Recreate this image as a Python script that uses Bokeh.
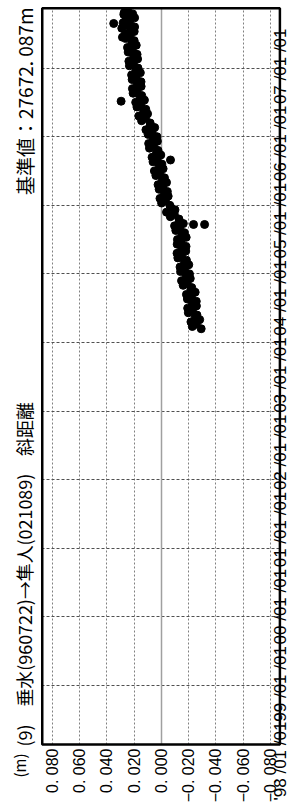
import math
from bokeh.plotting import figure
from bokeh.models import FixedTicker, Label, Range1d, Grid, BoxAnnotation
from bokeh.embed import file_html
from bokeh.resources import INLINE

# ---- data (decimal year, slope distance change in m) ----
dates = [
    2003.200, 2003.233, 2003.267, 2003.300, 2003.333, 2003.367,
    2003.400, 2003.433, 2003.467, 2003.500, 2003.533, 2003.567,
    2003.600, 2003.633, 2003.667, 2003.700, 2003.733, 2003.767,
    2003.800, 2003.833, 2003.867, 2003.900, 2003.933, 2003.967,
    2004.000, 2004.033, 2004.067, 2004.100, 2004.133, 2004.167,
    2004.200, 2004.233, 2004.267, 2004.300, 2004.333, 2004.367,
    2004.400, 2004.433, 2004.467, 2004.500, 2004.533, 2004.567,
    2004.600, 2004.633, 2004.667, 2004.700, 2004.733, 2004.767,
    2004.800, 2004.833, 2004.867, 2004.900, 2004.933, 2004.967,
    2005.000, 2005.033, 2005.067, 2005.100, 2005.133, 2005.167,
    2005.200, 2005.233, 2005.267, 2005.300, 2005.333, 2005.367,
    2005.400, 2005.433, 2005.467, 2005.500, 2005.533, 2005.567,
    2005.600, 2005.633, 2005.667, 2005.700, 2005.733, 2005.767,
    2005.800, 2005.833, 2005.867, 2005.900, 2005.933, 2005.967,
    2006.000, 2006.033, 2006.067, 2006.100, 2006.133, 2006.167,
    2006.200, 2006.233, 2006.267, 2006.300, 2006.333, 2006.367,
    2006.400, 2006.433, 2006.467, 2006.500, 2006.533, 2006.567,
    2006.600, 2006.633, 2006.667, 2006.700, 2006.733, 2006.767,
    2006.800, 2006.833, 2006.867, 2006.900, 2006.933, 2006.967,
    2007.000, 2007.033, 2007.067, 2007.100, 2007.133, 2007.167,
    2007.200, 2007.233, 2007.267, 2007.300, 2007.333, 2007.367,
    2007.400, 2007.433, 2007.467, 2007.500, 2007.533, 2007.567,
    2007.600, 2007.633, 2007.667, 2007.700, 2007.733, 2007.767,
    2007.790, 2007.805, 2007.820,
    2007.450, 2007.580, 2007.660, 2007.780,
    2007.650, 2006.517, 2005.660, 2004.720, 2004.720,
]
dist = [
    -0.0292, -0.0227, -0.0256, -0.0217, -0.0281, -0.0249,
    -0.0261, -0.0198, -0.0227, -0.0193, -0.0257, -0.0228,
    -0.0256, -0.0191, -0.0220, -0.0184, -0.0248, -0.0216,
    -0.0223, -0.0160, -0.0189, -0.0148, -0.0212, -0.0183,
    -0.0206, -0.0141, -0.0170, -0.0137, -0.0201, -0.0169,
    -0.0184, -0.0121, -0.0150, -0.0115, -0.0179, -0.0150,
    -0.0181, -0.0116, -0.0145, -0.0118, -0.0182, -0.0150,
    -0.0169, -0.0106, -0.0135, -0.0097, -0.0161, -0.0132,
    -0.0129, -0.0066, -0.0095, -0.0038, -0.0100, -0.0070,
    -0.0062, -0.0002, -0.0030, 0.0010, -0.0050, -0.0022,
    -0.0044, 0.0016, -0.0010, 0.0024, -0.0038, -0.0008,
    -0.0023, 0.0040, 0.0011, 0.0051, -0.0013, 0.0016,
    -0.0004, 0.0061, 0.0032, 0.0068, 0.0004, 0.0036,
    0.0024, 0.0087, 0.0058, 0.0093, 0.0029, 0.0058,
    0.0032, 0.0097, 0.0068, 0.0113, 0.0049, 0.0081,
    0.0082, 0.0145, 0.0116, 0.0165, 0.0101, 0.0130,
    0.0114, 0.0179, 0.0150, 0.0188, 0.0124, 0.0156,
    0.0144, 0.0207, 0.0178, 0.0212, 0.0148, 0.0177,
    0.0149, 0.0214, 0.0185, 0.0218, 0.0154, 0.0186,
    0.0171, 0.0234, 0.0205, 0.0238, 0.0174, 0.0203,
    0.0178, 0.0243, 0.0214, 0.0248, 0.0184, 0.0216,
    0.0199, 0.0262, 0.0233, 0.0263, 0.0199, 0.0228,
    0.0196, 0.0261, 0.0232, 0.0260, 0.0196, 0.0228,
    0.0210, 0.0273, 0.0244,
    0.0285, 0.0290, 0.0280, 0.0275,
    0.0349, 0.0295, -0.0067, -0.0236, -0.0317,
]

value_ticks = [0.08, 0.06, 0.04, 0.02, 0.0, -0.02, -0.04, -0.06, -0.08]
value_tick_labels = ["0. 080", "0. 060", "0. 040", "0. 020", "0. 000",
                     "\u22120. 020", "\u22120. 040", "\u22120. 060", "\u22120. 080"]
year_grid = [1998, 1999, 2000, 2001, 2002, 2003, 2004, 2005, 2006, 2007]
date_label_pos = [1996.324, 1997.472, 1998.598, 1999.723, 2000.848,
                  2001.974, 2003.099, 2004.224, 2005.350, 2006.475]
date_labels = ["'98 /01 /01", "99 /01 /01", "00 /01 /01", "01 /01 /01",
               "02 /01 /01", "03 /01 /01", "04 /01 /01", "05 /01 /01",
               "06 /01 /01", "07 /01 /01"]

title_text = "(9)\u3000垂水(960722)\u2192隼人(021089)\u3000斜距離"
base_text = "基準値\uff1a27672. 087m"
unit_text = "(m)"

# ---- layout constants (canvas = frame; plot box drawn inside) ----
W, H = 297, 806
XL, XR = 0.11790, -0.09980          # value at canvas left / right edge
YB, YT = 1996.236, 2007.985         # year at canvas bottom / top edge
BOX_L, BOX_R = 0.0873, -0.0869
BOX_B, BOX_T = 1997.140, 2007.873

p = figure(width=W, height=H, output_backend="svg", toolbar_location=None,
           title=None, x_range=Range1d(XL, XR), y_range=Range1d(YB, YT),
           x_axis_location="below", y_axis_location="right", min_border=0)
p.background_fill_color = "white"
p.border_fill_color = "white"
p.outline_line_color = None
p.xgrid.visible = False
p.ygrid.visible = False

# value axis (drawn along the bottom of the plot box)
xa = p.xaxis[0]
xa.fixed_location = BOX_B
xa.ticker = FixedTicker(ticks=value_ticks)
xa.major_label_overrides = {t: s for t, s in zip(value_ticks, value_tick_labels)}
xa.major_label_orientation = math.pi / 2
xa.major_label_text_font = "Liberation Sans"
xa.major_label_text_font_size = "16px"
xa.major_label_text_color = "black"
xa.axis_line_color = None
xa.major_tick_line_color = None
xa.minor_tick_line_color = None
xa.major_tick_out = 0
xa.major_tick_in = 0
xa.major_label_standoff = 4

# date axis (drawn along the right side of the plot box)
ya = p.yaxis[0]
ya.fixed_location = BOX_R
ya.ticker = FixedTicker(ticks=date_label_pos)
ya.major_label_overrides = {t: s for t, s in zip(date_label_pos, date_labels)}
ya.major_label_orientation = math.pi / 2
ya.major_label_text_font = "Liberation Sans"
ya.major_label_text_font_size = "17px"
ya.major_label_text_color = "black"
ya.axis_line_color = None
ya.major_tick_line_color = None
ya.minor_tick_line_color = None
ya.major_tick_out = 0
ya.major_tick_in = 0
ya.major_label_standoff = 1


def add_grid(dim, ticks, cross, color, dash, width):
    g = Grid(dimension=dim, ticker=FixedTicker(ticks=ticks),
             grid_line_color=color, grid_line_dash=dash, grid_line_width=width)
    try:
        g.cross_bounds = cross
        p.add_layout(g)
    except AttributeError:
        n = len(ticks)
        if dim == 0:
            p.segment(x0=ticks, y0=[cross[0]] * n, x1=ticks, y1=[cross[1]] * n,
                      line_color=color, line_dash=dash, line_width=width, level="underlay")
        else:
            p.segment(x0=[cross[0]] * n, y0=ticks, x1=[cross[1]] * n, y1=ticks,
                      line_color=color, line_dash=dash, line_width=width, level="underlay")


add_grid(0, [t for t in value_ticks if t != 0.0], (BOX_B, BOX_T), "#808080", "2 2", 1)
add_grid(1, year_grid, (BOX_R, BOX_L), "#505050", "3 2", 1)
add_grid(0, [0.0], (BOX_B, BOX_T), "#a0a0a0", "solid", 1.5)

p.scatter(dist, dates, size=8, color="black")

# plot box border
p.add_layout(BoxAnnotation(left=BOX_L, right=BOX_R, bottom=BOX_B, top=BOX_T,
                           fill_alpha=0, fill_color=None,
                           line_color="black", line_width=2.5, line_alpha=1))

# rotated texts on the left
p.add_layout(Label(x=0.10031, y=1997.111, text=title_text, angle=math.pi / 2,
                   text_align="left", text_baseline="middle",
                   text_font="Noto Sans CJK JP", text_font_size="17.9px", text_color="black"))
p.add_layout(Label(x=0.10031, y=2007.883, text=base_text, angle=math.pi / 2,
                   text_align="right", text_baseline="middle",
                   text_font="Noto Sans CJK JP", text_font_size="19px", text_color="black"))
p.add_layout(Label(x=0.10361, y=1996.659, text=unit_text, angle=math.pi / 2,
                   text_align="left", text_baseline="middle",
                   text_font="Noto Sans CJK JP", text_font_size="15px", text_color="black"))

open("out.html", "w").write(file_html(p, INLINE))
